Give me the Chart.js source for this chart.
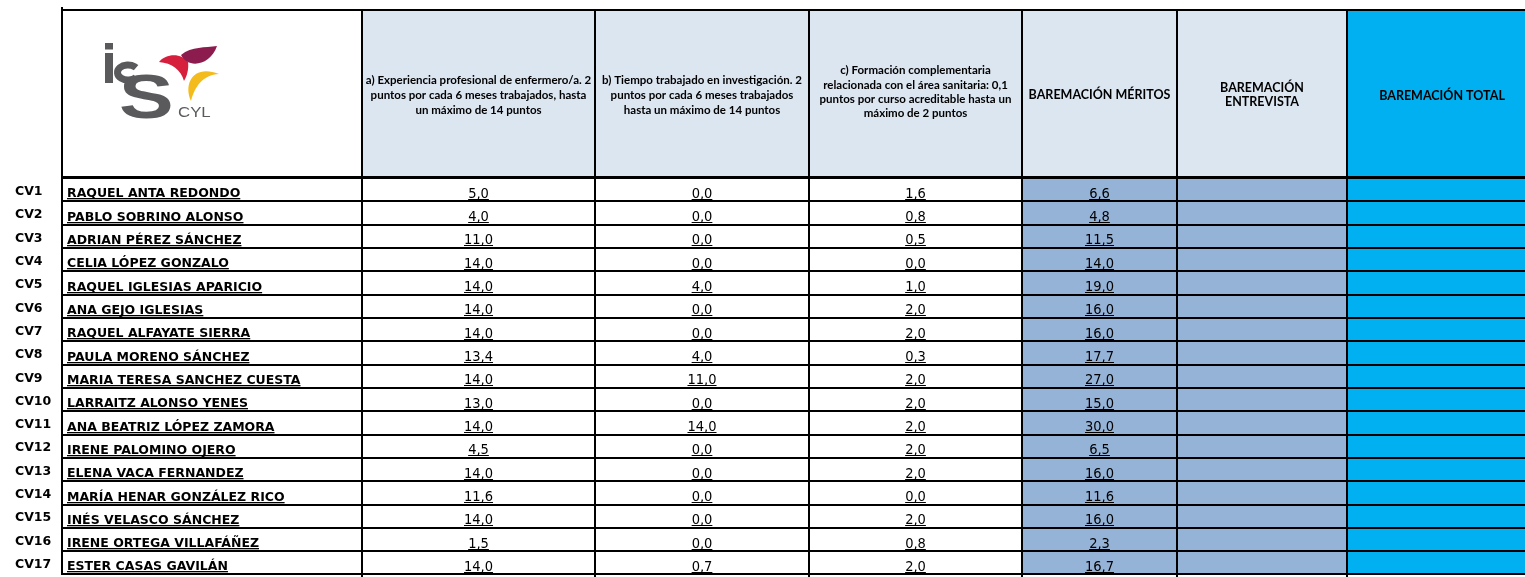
<!DOCTYPE html>
<html><head><meta charset="utf-8">
<script src="https://cdn.jsdelivr.net/npm/chart.js@4"></script>
<style>html,body{margin:0;padding:0;background:#fff;overflow:hidden}canvas{display:block}</style>
</head><body>
<canvas id="c" width="1525" height="582" style="width:1525px;height:582px"></canvas>
<script>
// ---------- data ----------
const rowLabels = ['CV1','CV2','CV3','CV4','CV5','CV6','CV7','CV8','CV9','CV10','CV11','CV12','CV13','CV14','CV15','CV16','CV17'];
const names = ['RAQUEL ANTA REDONDO','PABLO SOBRINO ALONSO','ADRIAN PÉREZ SÁNCHEZ','CELIA LÓPEZ GONZALO','RAQUEL IGLESIAS APARICIO','ANA GEJO IGLESIAS','RAQUEL ALFAYATE SIERRA','PAULA MORENO SÁNCHEZ','MARIA TERESA SANCHEZ CUESTA','LARRAITZ ALONSO YENES','ANA BEATRIZ LÓPEZ ZAMORA','IRENE PALOMINO OJERO','ELENA VACA FERNANDEZ','MARÍA HENAR GONZÁLEZ RICO','INÉS VELASCO SÁNCHEZ','IRENE ORTEGA VILLAFÁÑEZ','ESTER CASAS GAVILÁN'];
const experiencia = [5.0,4.0,11.0,14.0,14.0,14.0,14.0,13.4,14.0,13.0,14.0,4.5,14.0,11.6,14.0,1.5,14.0];
const investigacion = [0.0,0.0,0.0,0.0,4.0,0.0,0.0,4.0,11.0,0.0,14.0,0.0,0.0,0.0,0.0,0.0,0.7];
const formacion = [1.6,0.8,0.5,0.0,1.0,2.0,2.0,0.3,2.0,2.0,2.0,2.0,2.0,0.0,2.0,0.8,2.0];
const meritos = [6.6,4.8,11.5,14.0,19.0,16.0,16.0,17.7,27.0,15.0,30.0,6.5,16.0,11.6,16.0,2.3,16.7];
const entrevista = [];
const total = [];
const headerA = ['a) Experiencia profesional de enfermero/a. 2','puntos por cada 6 meses trabajados, hasta','un máximo de 14 puntos'];
const headerB = ['b) Tiempo trabajado en investigación. 2','puntos por cada 6 meses trabajados','hasta un máximo de 14 puntos'];
const headerC = ['c) Formación complementaria','relacionada con el área sanitaria: 0,1','puntos por curso acreditable hasta un','máximo de 2 puntos'];
const headerMeritos = ['BAREMACIÓN MÉRITOS'];
const headerEntrevista = ['BAREMACIÓN','ENTREVISTA'];
const headerTotal = ['BAREMACIÓN TOTAL'];
const logoText = ['S','CYL'];

// ---------- layout / styles ----------
const NAME_FONT = 'bold 12.5px "DejaVu Sans", Verdana, sans-serif';
const NUM_FONT = '14.5px "DejaVu Sans Condensed", "Liberation Sans Narrow", "Liberation Sans", sans-serif';
const HEAD_SMALL = 'bold 11.5px Lato, "Open Sans", sans-serif';
const HEAD_BIG = 'bold 12.5px Lato, "Open Sans", sans-serif';
const columns = [
  {from:0,    to:300,  bg:'#ffffff', hbg:'#ffffff', header:null,             hfont:null,       hc:94, lh:14, values:names,         align:'left'},
  {from:300,  to:533,  bg:'#ffffff', hbg:'#dce6f1', header:headerA,          hfont:HEAD_SMALL, hc:95, lh:15, values:experiencia,   align:'center'},
  {from:533,  to:747,  bg:'#ffffff', hbg:'#dce6f1', header:headerB,          hfont:HEAD_SMALL, hc:95, lh:15, values:investigacion, align:'center'},
  {from:747,  to:960,  bg:'#ffffff', hbg:'#dce6f1', header:headerC,          hfont:HEAD_SMALL, hc:92, lh:14.2, values:formacion,   align:'center'},
  {from:960,  to:1115, bg:'#95b3d7', hbg:'#dce6f1', header:headerMeritos,    hfont:HEAD_BIG,   hc:95, lh:14, values:meritos,       align:'center'},
  {from:1115, to:1285, bg:'#95b3d7', hbg:'#dce6f1', header:headerEntrevista, hfont:HEAD_BIG,   hc:95, lh:14, values:entrevista,    align:'center'},
  {from:1285, to:1475, bg:'#00b0f0', hbg:'#00b0f0', header:headerTotal,      hfont:HEAD_BIG,   hc:96, lh:14, values:total,         align:'center'}
];
const TABLE_TOP = 10;

function fmt(v){ return typeof v === 'number' ? v.toFixed(1).replace('.', ',') : v; }

function drawLogo(ctx){
  ctx.save();
  const gray = '#5a5a5d';
  ctx.fillStyle = gray;
  ctx.strokeStyle = gray;
  ctx.textBaseline = 'alphabetic';
  ctx.textAlign = 'left';
  // i (dot + stem)
  ctx.fillRect(105, 43, 8, 6.5);
  ctx.fillRect(105, 53, 8, 30);
  // c
  ctx.lineWidth = 7;
  ctx.beginPath();
  ctx.ellipse(128, 72.5, 10.5, 7.5, 0, 0.22 * Math.PI, 1.78 * Math.PI);
  ctx.stroke();
  // S
  ctx.save();
  ctx.translate(119, 118);
  ctx.scale(1.3, 1);
  ctx.font = 'bold 63px "Liberation Sans", Arial, sans-serif';
  ctx.fillText(logoText[0], 0, 0);
  ctx.restore();
  // CYL
  ctx.save();
  ctx.translate(178, 117);
  ctx.scale(1.2, 1);
  ctx.font = '400 14px "Liberation Sans", Arial, sans-serif';
  ctx.fillText(logoText[1], 0, 0);
  ctx.restore();
  // petals
  ctx.fillStyle = '#d51f3d';
  ctx.beginPath();
  ctx.moveTo(159, 62);
  ctx.bezierCurveTo(166, 53, 182, 53, 188, 62);
  ctx.bezierCurveTo(189, 69, 187, 76, 184, 81);
  ctx.bezierCurveTo(181, 70, 172, 63, 159, 62);
  ctx.fill();
  ctx.fillStyle = '#8d1c4e';
  ctx.beginPath();
  ctx.moveTo(181, 55);
  ctx.bezierCurveTo(188, 69, 210, 66, 217, 46);
  ctx.bezierCurveTo(205, 48, 192, 46, 181, 55);
  ctx.fill();
  ctx.fillStyle = '#f4bb1c';
  ctx.beginPath();
  ctx.moveTo(191, 101);
  ctx.bezierCurveTo(183, 83, 194, 64, 219, 74);
  ctx.bezierCurveTo(203, 75, 195, 86, 191, 101);
  ctx.fill();
  ctx.restore();
}

const tablePlugin = {
  id: 'tablePlugin',
  beforeDatasetsDraw(chart){
    const ctx = chart.ctx, xs = chart.scales.x, area = chart.chartArea;
    const top = TABLE_TOP, bottom = area.top;
    ctx.save();
    columns.forEach(col => {
      const l = xs.getPixelForValue(col.from), r = xs.getPixelForValue(col.to);
      ctx.fillStyle = col.hbg;
      ctx.fillRect(l, top, r - l, bottom - top);
      if (col.header){
        ctx.fillStyle = '#000';
        ctx.font = col.hfont;
        ctx.textAlign = 'center';
        ctx.textBaseline = 'middle';
        const n = col.header.length;
        col.header.forEach((t, k) => {
          ctx.fillText(t, (l + r) / 2, col.hc + (k - (n - 1) / 2) * col.lh);
        });
      }
    });
    drawLogo(ctx);
    ctx.restore();
  },
  afterDatasetsDraw(chart){
    const ctx = chart.ctx, xs = chart.scales.x, area = chart.chartArea;
    ctx.save();
    const x0 = Math.round(xs.getPixelForValue(0));
    const xEnd = area.right + 5;
    columns.forEach((col, di) => {
      const meta = chart.getDatasetMeta(di);
      meta.data.forEach((el, i) => {
        const v = col.values[i];
        if (v === undefined || v === null) return;
        const p = el.getProps(['x', 'y', 'base', 'height'], true);
        const l = Math.min(p.x, p.base), r = Math.max(p.x, p.base);
        const text = fmt(v);
        const rowBottom = p.y + p.height / 2;
        ctx.fillStyle = '#000';
        ctx.textBaseline = 'alphabetic';
        let w;
        if (col.align === 'left'){
          ctx.font = NAME_FONT;
          ctx.textAlign = 'left';
          const bl = Math.round(rowBottom - 4);
          const tx = l + 5;
          w = ctx.measureText(text).width;
          ctx.fillText(text, tx, bl);
          ctx.fillRect(tx, bl + 1, w, 1.3);
        } else {
          ctx.font = NUM_FONT;
          ctx.textAlign = 'center';
          const bl = Math.round(rowBottom - 3.5);
          const tx = (l + r) / 2;
          w = ctx.measureText(text).width;
          ctx.fillText(text, tx, bl);
          ctx.fillRect(tx - w / 2, bl + 1, w, 1);
        }
      });
    });
    ctx.fillStyle = '#000';
    ctx.fillRect(x0 - 1, TABLE_TOP - 1, xEnd - x0, 2);
    ctx.fillRect(x0 - 1, Math.round(area.top) - 2, xEnd - x0, 3);
    const meta0 = chart.getDatasetMeta(0);
    meta0.data.forEach(el => {
      const p = el.getProps(['y', 'height'], true);
      const yb = Math.round(p.y + p.height / 2);
      ctx.fillRect(x0 - 1, yb - 1, xEnd - x0, 2);
    });
    columns.forEach(col => {
      const l = Math.round(xs.getPixelForValue(col.from));
      ctx.fillRect(l - 1, l === x0 ? TABLE_TOP - 3 : TABLE_TOP, 2, area.bottom - TABLE_TOP + 3);
    });
    ctx.restore();
  }
};

new Chart(document.getElementById('c'), {
  type: 'bar',
  data: {
    labels: rowLabels,
    datasets: columns.map(col => ({
      data: rowLabels.map(() => [col.from, col.to]),
      backgroundColor: col.bg,
      borderWidth: 0,
      borderSkipped: false,
      barPercentage: 1,
      categoryPercentage: 1,
      grouped: false,
      inflateAmount: 0.5
    }))
  },
  options: {
    indexAxis: 'y',
    responsive: false,
    animation: false,
    devicePixelRatio: 1,
    layout: { padding: { top: 178, left: 15, right: 0, bottom: 0 } },
    plugins: { legend: { display: false }, tooltip: { enabled: false } },
    scales: {
      x: { type: 'linear', min: 0, max: 1463, display: false },
      y: {
        type: 'category',
        position: 'left',
        grid: { display: false, drawTicks: false },
        border: { display: false },
        ticks: {
          color: '#000',
          font: { family: '"DejaVu Sans", Verdana, sans-serif', size: 12.5, weight: 'bold' },
          crossAlign: 'far',
          padding: 0,
          labelOffset: 2
        },
        afterFit(scale){ scale.width = 47; }
      }
    }
  },
  plugins: [tablePlugin]
});
</script>
</body></html>
